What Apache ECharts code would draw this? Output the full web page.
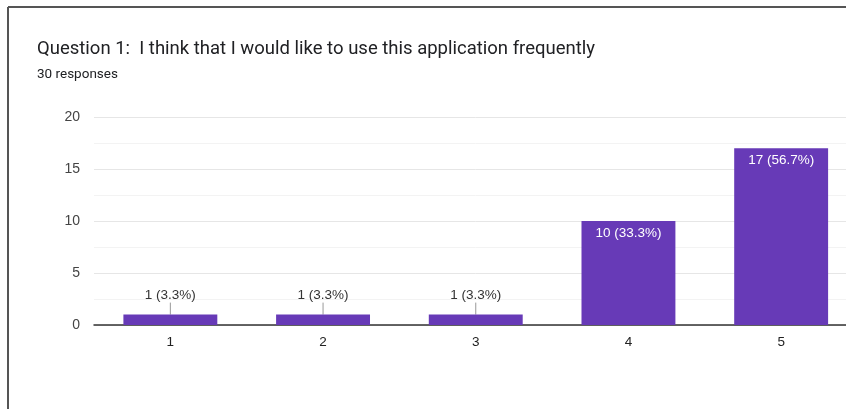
<!DOCTYPE html>
<html><head><meta charset="utf-8">
<script src="https://cdn.jsdelivr.net/npm/echarts@6/dist/echarts.min.js"></script>
<style>html,body{margin:0;padding:0;background:#fff;overflow:hidden;width:846px;height:409px;}#c{width:870px;height:409px;}</style>
</head><body><div id="c"></div>
<script>
const titleText = 'Question 1:  I think that I would like to use this application frequently';
const subtitleText = '30 responses';
const categories = ['1', '2', '3', '4', '5'];
const counts = [1, 1, 1, 10, 17];
const percents = ['3.3%', '3.3%', '3.3%', '33.3%', '56.7%'];
const yTicks = [0, 5, 10, 15, 20];

const chart = echarts.init(document.getElementById('c'), null, {renderer: 'canvas'});
const isInside = v => v >= 5;
const data = counts.map((v) => ({
  value: v,
  label: isInside(v) ? {position: 'insideTop', distance: 5, color: '#ffffff'} : {position: 'top', distance: 0, color: '#333333'}
}));
chart.setOption({
  animation: false,
  title: [
    {text: titleText, left: 37, top: 40, padding: 0, textStyle: {fontFamily: 'Roboto', fontSize: 18.5, fontWeight: 'normal', color: '#202124'}},
    {text: subtitleText, left: 37, top: 68, padding: 0, textStyle: {fontFamily: 'Roboto', fontSize: 13.5, fontWeight: 'normal', color: '#202124'}}
  ],
  graphic: [
    {type: 'line', shape: {x1: 8, y1: 7, x2: 870, y2: 7}, style: {stroke: '#555555', lineWidth: 2}},
    {type: 'line', shape: {x1: 8, y1: 7, x2: 8, y2: 409}, style: {stroke: '#555555', lineWidth: 2}}
  ],
  grid: {left: 94, width: 763.5, top: 117, height: 208, containLabel: false},
  xAxis: {
    type: 'category', data: categories,
    axisLine: {lineStyle: {color: '#333333', width: 1.5}},
    axisTick: {show: false},
    axisLabel: {margin: 10, color: '#222222', fontFamily: 'Arial', fontSize: 13.5}
  },
  yAxis: {
    type: 'value', min: yTicks[0], max: yTicks[yTicks.length - 1], interval: 5,
    axisLine: {show: false}, axisTick: {show: false},
    axisLabel: {margin: 14, color: '#444444', fontFamily: 'Arial', fontSize: 14},
    splitLine: {lineStyle: {color: '#e6e6e6'}},
    minorTick: {show: false, splitNumber: 2},
    minorSplitLine: {show: true, lineStyle: {color: '#f3f3f3'}}
  },
  series: [{
    type: 'bar', data: data, barCategoryGap: '38.5%',
    itemStyle: {color: '#673ab7'},
    label: {show: true, fontFamily: 'Arial', fontSize: 13.5,
      formatter: p => p.value + ' (' + percents[p.dataIndex] + ')'},
    labelLayout: p => isInside(counts[p.dataIndex]) ? {} : {dy: -12},
    labelLine: {show: true, lineStyle: {color: '#999999', width: 1}}
  }]
});
</script></body></html>
